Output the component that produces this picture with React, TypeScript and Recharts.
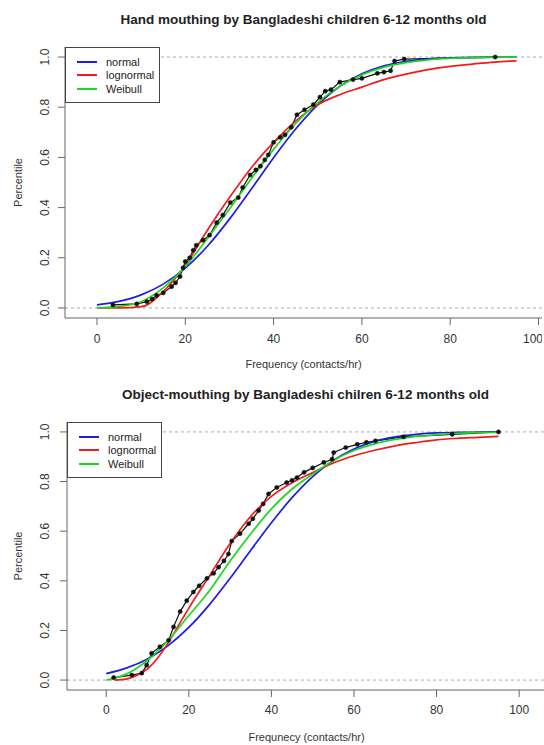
import { Legend, Line, LineChart, ReferenceArea, ReferenceLine, XAxis, YAxis } from "recharts";

const FONT = "'Liberation Sans', Arial, sans-serif";

// fitted curve grid (contacts/hr)
const FREQ = [0, 5, 10, 15, 20, 25, 30, 35, 40, 45, 50, 55, 60, 65, 70, 75, 80, 85, 90, 95];

// Hand mouthing
const HAND_NORMAL = [0.012, 0.026, 0.052, 0.095, 0.159, 0.246, 0.354, 0.475, 0.599, 0.713, 0.809, 0.883, 0.933, 0.965, 0.983, 0.993, 0.997, 0.999, 1.0, 1.0];
const HAND_LOGNORMAL = [0, 0, 0.005, 0.065, 0.17, 0.31, 0.44, 0.56, 0.66, 0.745, 0.81, 0.85, 0.88, 0.91, 0.932, 0.95, 0.963, 0.972, 0.98, 0.985];
const HAND_WEIBULL = [0, 0.006, 0.025, 0.08, 0.165, 0.277, 0.394, 0.516, 0.632, 0.735, 0.819, 0.883, 0.929, 0.96, 0.978, 0.989, 0.995, 0.998, 0.999, 1.0];
const HAND_OBS_X = [3.6, 9, 11.3, 12.5, 13.5, 15, 16.9, 17.8, 18.8, 19.5, 20, 21, 21.8, 22.5, 24, 25.5, 27.1, 28.5, 30.2, 32, 33, 34.7, 36, 37, 38, 38.8, 40, 41.5, 42.6, 44, 45.3, 47, 49, 50.5, 51.7, 53, 55, 58, 60, 63.5, 65, 66.5, 67.4, 69.6, 90.2];
const HAND_OBS_P = [0.012, 0.016, 0.025, 0.035, 0.05, 0.06, 0.085, 0.1, 0.125, 0.16, 0.185, 0.2, 0.23, 0.25, 0.27, 0.29, 0.34, 0.37, 0.42, 0.44, 0.48, 0.53, 0.55, 0.565, 0.59, 0.61, 0.66, 0.68, 0.69, 0.72, 0.77, 0.79, 0.81, 0.84, 0.864, 0.87, 0.9, 0.91, 0.915, 0.935, 0.94, 0.945, 0.984, 0.992, 1.0];

// Object mouthing
const OBJ_NORMAL = [0.026, 0.049, 0.085, 0.139, 0.212, 0.304, 0.41, 0.523, 0.634, 0.735, 0.82, 0.885, 0.931, 0.962, 0.98, 0.99, 0.996, 0.998, 0.999, 1.0];
const OBJ_LOGNORMAL_X = [2, 5, 7.5, 10, 12.5, 15, 17.5, 20, 25, 30, 35, 40, 45, 50, 55, 60, 65, 70, 75, 80, 85, 90, 95];
const OBJ_LOGNORMAL = [0, 0.005, 0.02, 0.045, 0.09, 0.15, 0.22, 0.29, 0.42, 0.55, 0.66, 0.74, 0.795, 0.836, 0.875, 0.904, 0.926, 0.944, 0.957, 0.968, 0.974, 0.978, 0.982];
const OBJ_WEIBULL = [0, 0.025, 0.08, 0.16, 0.26, 0.36, 0.48, 0.59, 0.69, 0.77, 0.83, 0.885, 0.925, 0.952, 0.97, 0.982, 0.989, 0.994, 0.997, 0.998];
const OBJ_OBS_X = [1.8, 6.2, 8.6, 9.8, 11, 13, 15.1, 16.3, 17.9, 19.5, 21.1, 22.5, 24.4, 26, 27.2, 28.5, 29.6, 30.4, 32.4, 34.5, 35.5, 36.9, 38, 39.3, 41.3, 43.7, 45, 46.2, 47.9, 50, 52.7, 54.7, 55.1, 58, 60.8, 63, 65.2, 72, 83.8, 95];
const OBJ_OBS_P = [0.01, 0.02, 0.028, 0.06, 0.108, 0.134, 0.16, 0.214, 0.276, 0.32, 0.355, 0.38, 0.41, 0.43, 0.455, 0.48, 0.508, 0.56, 0.59, 0.63, 0.65, 0.683, 0.71, 0.75, 0.776, 0.796, 0.805, 0.816, 0.837, 0.855, 0.877, 0.89, 0.917, 0.937, 0.95, 0.958, 0.964, 0.98, 0.99, 1.0];

const X_TICKS = [0, 20, 40, 60, 80, 100];
const Y_TICKS = [0, 0.2, 0.4, 0.6, 0.8, 1.0];
const LEGEND_NAMES = ["normal", "lognormal", "Weibull"];
const COLORS = ["#1c1ce6", "#f01c1c", "#1ed81e"];

const toPts = (xs: number[], ys: number[]) => xs.map((x, i) => ({ x, p: ys[i] }));

function YTick(props: any) {
  const { x, y, payload } = props;
  return (
    <text
      x={x}
      y={y}
      transform={`rotate(-90 ${x} ${y})`}
      textAnchor="middle"
      fontSize={12}
      fill="#333"
      fontFamily={FONT}
    >
      {Number(payload.value).toFixed(1)}
    </text>
  );
}

function LegendBox() {
  const rows = [15, 28, 42];
  return (
    <svg width={95} height={56} style={{ display: "block" }}>
      <rect x={0.5} y={0.5} width={94} height={55} fill="#fff" stroke="#444" />
      {LEGEND_NAMES.map((n, i) => (
        <g key={n}>
          <line x1={12} x2={32} y1={rows[i]} y2={rows[i]} stroke={COLORS[i]} strokeWidth={2} />
          <text x={41} y={rows[i] + 4} fontSize={11} fill="#222" fontFamily={FONT}>
            {n}
          </text>
        </g>
      ))}
    </svg>
  );
}

type PanelProps = {
  top: number;
  width: number;
  height: number;
  plotLeft: number;
  marginTop: number;
  xAxisHeight: number;
  xDomain: [number, number];
  tickMarginX: number;
  tickMarginY: number;
  title: string;
  xLabel: string;
  normal: { x: number; p: number }[];
  lognormal: { x: number; p: number }[];
  weibull: { x: number; p: number }[];
  obs: { x: number; p: number }[];
};

function Panel(props: PanelProps) {
  const plotW = props.width - props.plotLeft;
  return (
    <div style={{ position: "absolute", left: 0, top: props.top, width: props.width, height: props.height }}>
      <div
        style={{
          position: "absolute",
          left: props.plotLeft,
          width: Math.min(plotW, 544 - props.plotLeft),
          top: 12 + (props.marginTop - 47),
          textAlign: "center",
          fontFamily: FONT,
          fontWeight: "bold",
          fontSize: 13.5,
          lineHeight: "16px",
          color: "#222",
          whiteSpace: "nowrap",
        }}
      >
        {props.title}
      </div>
      <LineChart
        width={props.width}
        height={props.height}
        margin={{ top: props.marginTop, right: 0, left: 0, bottom: 0 }}
      >
        <XAxis
          type="number"
          dataKey="x"
          domain={props.xDomain}
          allowDataOverflow
          ticks={X_TICKS}
          height={props.xAxisHeight}
          tickSize={7}
          tickMargin={props.tickMarginX}
          axisLine={{ stroke: "#666" }}
          tickLine={{ stroke: "#666" }}
          tick={{ fontSize: 12, fill: "#333", fontFamily: FONT }}
          label={{
            value: props.xLabel,
            position: "insideBottom",
            offset: 4,
            fontSize: 11,
            fill: "#333",
            fontFamily: FONT,
          }}
        />
        <YAxis
          type="number"
          dataKey="p"
          domain={[-0.04, 1.04]}
          allowDataOverflow
          ticks={Y_TICKS}
          width={props.plotLeft}
          tickSize={7}
          tickMargin={props.tickMarginY}
          axisLine={{ stroke: "#666" }}
          tickLine={{ stroke: "#666" }}
          tick={<YTick />}
          label={{
            value: "Percentile",
            angle: -90,
            position: "insideLeft",
            offset: 18,
            style: { textAnchor: "middle" },
            fontSize: 11,
            fill: "#333",
            fontFamily: FONT,
          }}
        />
        <ReferenceLine y={0} stroke="#aaa" strokeDasharray="3 3" />
        <ReferenceLine y={1} stroke="#aaa" strokeDasharray="3 3" />
        <Line
          data={props.obs}
          dataKey="p"
          type="linear"
          stroke="#111"
          strokeWidth={1.2}
          dot={{ r: 2.1, fill: "#111", stroke: "#111", strokeWidth: 0.5 }}
          isAnimationActive={false}
          legendType="none"
        />
        <Line data={props.normal} dataKey="p" name="normal" type="monotone" stroke={COLORS[0]} strokeWidth={1.7} dot={false} isAnimationActive={false} />
        <Line data={props.lognormal} dataKey="p" name="lognormal" type="monotone" stroke={COLORS[1]} strokeWidth={1.7} dot={false} isAnimationActive={false} />
        <Line data={props.weibull} dataKey="p" name="Weibull" type="monotone" stroke={COLORS[2]} strokeWidth={1.7} dot={false} isAnimationActive={false} />
        <ReferenceArea fill="none" stroke="#555" strokeWidth={1.2} ifOverflow="visible" />
        <Legend
          layout="vertical"
          align="center"
          verticalAlign="middle"
          content={<LegendBox />}
          wrapperStyle={{ left: props.plotLeft, top: props.marginTop, width: 95, height: 56 }}
        />
      </LineChart>
    </div>
  );
}

export default function App() {
  return (
    <div
      style={{
        position: "absolute",
        left: 0,
        top: 0,
        width: 544,
        height: 745,
        overflow: "hidden",
        background: "#fff",
      }}
    >
      <Panel
        top={0}
        width={542}
        height={372}
        plotLeft={65}
        marginTop={47}
        xAxisHeight={54}
        xDomain={[-7.25, 100.8]}
        tickMarginX={9}
        tickMarginY={8.5}
        title="Hand mouthing by Bangladeshi children 6-12 months old"
        xLabel="Frequency (contacts/hr)"
        normal={toPts(FREQ, HAND_NORMAL)}
        lognormal={toPts(FREQ, HAND_LOGNORMAL)}
        weibull={toPts(FREQ, HAND_WEIBULL)}
        obs={toPts(HAND_OBS_X, HAND_OBS_P)}
      />
      <Panel
        top={372}
        width={546}
        height={373}
        plotLeft={67}
        marginTop={50}
        xAxisHeight={55}
        xDomain={[-9.5, 106.5]}
        tickMarginX={8}
        tickMarginY={10.5}
        title="Object-mouthing by Bangladeshi chilren 6-12 months old"
        xLabel="Frequnecy (contacts/hr)"
        normal={toPts(FREQ, OBJ_NORMAL)}
        lognormal={toPts(OBJ_LOGNORMAL_X, OBJ_LOGNORMAL)}
        weibull={toPts(FREQ, OBJ_WEIBULL)}
        obs={toPts(OBJ_OBS_X, OBJ_OBS_P)}
      />
    </div>
  );
}
